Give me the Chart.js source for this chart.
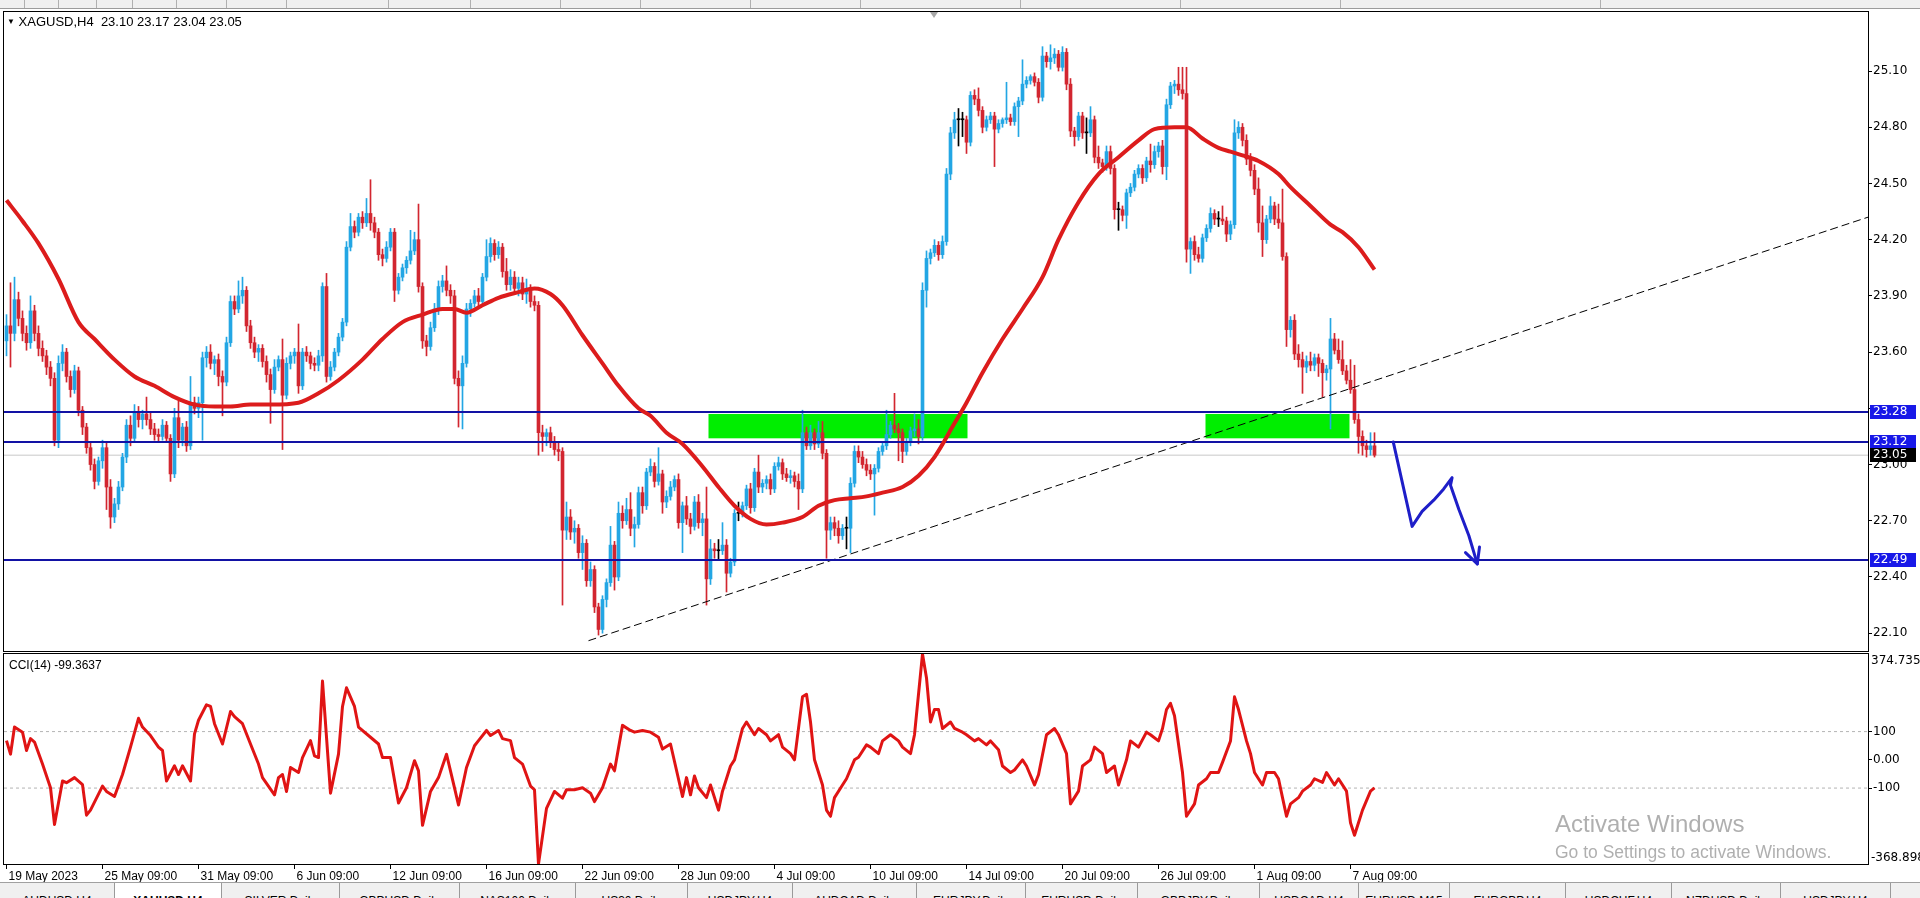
<!DOCTYPE html>
<html>
<head>
<meta charset="utf-8">
<title>XAGUSD,H4</title>
<script src="https://cdn.jsdelivr.net/npm/chart.js@4.4.1/dist/chart.umd.min.js"></script>
<style>
  html, body { margin:0; padding:0; width:1920px; height:898px; overflow:hidden; background:#fff; font-family:'Liberation Sans', Arial, sans-serif; }
  canvas { position:absolute; left:0; }
  #mainChart { top:0; }
  #cciChart { top:652px; }
  #toolbar { position:absolute; left:0; top:0; width:1920px; height:8px; background:#f0f0f0; border-bottom:1px solid #9c9c9c; z-index:2; }
  .sep { position:absolute; top:0; width:1px; height:8px; background:#b0b0b0; }
  .txt { position:absolute; white-space:nowrap; color:#000; font-size:12px; z-index:3; }
  #shift { position:absolute; left:930px; top:12px; width:0; height:0; border-left:4px solid transparent; border-right:4px solid transparent; border-top:6px solid #a8a8a8; z-index:3; }
  #tabs { position:absolute; left:0; top:882px; width:1920px; height:16px; background:#f0f0f0; border-top:1px solid #a0a0a0; z-index:3; overflow:hidden; }
  .tab { position:absolute; top:0; height:16px; border-right:1px solid #9a9a9a; overflow:hidden; font-size:12px; color:#000; text-align:center; box-sizing:border-box; padding-top:11px; line-height:14px; }
  .tab.on { background:#fff; font-weight:bold; }
  .wm { position:absolute; color:rgba(110,110,110,0.55); white-space:nowrap; z-index:3; line-height:1; }
</style>
</head>
<body>
<div id="toolbar"></div>
<canvas id="mainChart" width="1920" height="652"></canvas>
<canvas id="cciChart" width="1920" height="246"></canvas>
<div id="shift"></div>
<div class="txt" style="left:7px;top:14px;font-size:13px;"><span style="font-size:8px;position:relative;top:-2px;">&#9660;</span> XAGUSD,H4&nbsp; 23.10 23.17 23.04 23.05</div>
<div class="txt" style="left:9px;top:658px;">CCI(14) -99.3637</div>
<div class="wm" style="left:1555px;top:812px;font-size:24px;">Activate Windows</div>
<div class="wm" style="left:1555px;top:844px;font-size:17.5px;">Go to Settings to activate Windows.</div>
<div id="tabs"></div>

<script>
// ---- candles (H4 bars, left to right) ----
const opens = [
  23.66,23.74,23.70,23.88,23.78,23.70,23.65,23.82,23.70,23.62,
  23.58,23.52,23.46,23.13,23.54,23.60,23.47,23.40,23.50,23.29,
  23.20,23.09,23.00,22.91,23.02,23.09,22.88,22.72,22.79,22.88,
  23.04,23.21,23.14,23.28,23.24,23.27,23.24,23.19,23.16,23.15,
  23.21,23.14,22.95,23.25,23.13,23.20,23.10,23.33,23.30,23.33,
  23.57,23.60,23.54,23.56,23.47,23.44,23.65,23.87,23.83,23.90,
  23.93,23.74,23.65,23.60,23.62,23.55,23.48,23.40,23.52,23.56,
  23.37,23.54,23.58,23.60,23.42,23.60,23.58,23.54,23.53,23.58,
  23.95,23.47,23.52,23.60,23.68,23.76,24.16,24.27,24.24,24.32,
  24.29,24.34,24.29,24.24,24.12,24.10,24.16,24.24,23.93,24.00,
  24.05,24.09,24.14,24.20,23.95,23.66,23.63,23.73,23.83,23.95,
  23.98,23.93,23.90,23.46,23.42,23.54,23.83,23.86,23.90,23.87,
  24.00,24.11,24.18,24.12,24.16,24.03,23.96,24.00,23.94,23.97,
  23.91,23.94,23.87,23.85,23.17,23.15,23.17,23.12,23.08,23.07,
  22.65,22.72,22.64,22.66,22.53,22.58,22.38,22.44,22.24,22.12,
  22.28,22.37,22.57,22.40,22.74,22.70,22.76,22.66,22.68,22.85,
  22.78,22.96,22.99,22.91,22.95,22.80,22.83,22.88,22.92,22.69,
  22.78,22.71,22.67,22.80,22.69,22.71,22.39,22.55,22.54,22.54,
  22.57,22.42,22.48,22.74,22.74,22.78,22.87,22.77,22.96,22.88,
  22.90,22.92,22.87,22.99,23.01,22.95,22.93,22.94,22.91,22.87,
  23.17,23.10,23.17,23.11,23.17,23.06,22.65,22.69,22.66,22.62,
  22.66,22.66,22.90,23.07,23.04,23.00,22.97,22.95,22.98,23.07,
  23.10,23.16,23.21,23.19,23.17,23.07,23.12,23.18,23.19,23.15,
  23.93,24.10,24.13,24.17,24.12,24.19,24.55,24.77,24.84,24.84,
  24.84,24.72,24.97,24.95,24.89,24.80,24.84,24.86,24.79,24.82,
  24.84,24.85,24.83,24.91,24.94,25.03,25.05,25.07,25.04,24.96,
  25.18,25.15,25.17,25.19,25.12,25.20,25.03,24.78,24.75,24.86,
  24.77,24.77,24.84,24.64,24.61,24.59,24.67,24.58,24.36,24.36,
  24.33,24.45,24.48,24.55,24.58,24.53,24.62,24.60,24.67,24.70,
  24.59,24.92,25.02,25.03,25.00,24.98,24.15,24.19,24.12,24.10,
  24.21,24.26,24.34,24.31,24.31,24.30,24.23,24.28,24.77,24.80,
  24.73,24.63,24.57,24.47,24.29,24.20,24.31,24.38,24.31,24.29,
  24.11,23.72,23.77,23.59,23.56,23.52,23.55,23.53,23.57,23.54,
  23.49,23.51,23.67,23.61,23.56,23.50,23.45,23.40,23.24,23.15,
  23.10,23.08,23.10
];
const highs = [
  23.80,23.97,24.00,23.92,23.82,23.74,23.90,23.85,23.74,23.66,
  23.61,23.55,23.49,23.58,23.64,23.62,23.50,23.53,23.52,23.31,
  23.22,23.12,23.03,23.04,23.13,23.12,22.92,22.82,22.91,23.06,
  23.24,23.26,23.32,23.31,23.29,23.36,23.28,23.22,23.19,23.24,
  23.23,23.16,23.30,23.34,23.22,23.23,23.47,23.36,23.36,23.60,
  23.63,23.64,23.58,23.59,23.50,23.68,23.90,23.90,23.98,24.00,
  23.95,23.77,23.68,23.64,23.64,23.58,23.51,23.56,23.58,23.67,
  23.57,23.60,23.62,23.75,23.62,23.63,23.60,23.57,23.61,23.97,
  24.02,23.55,23.62,23.70,23.78,24.19,24.34,24.30,24.34,24.35,
  24.42,24.52,24.32,24.26,24.15,24.19,24.26,24.26,24.02,24.07,
  24.11,24.25,24.24,24.39,23.97,23.69,23.76,23.86,23.98,24.01,
  24.06,23.96,23.93,23.50,23.58,23.86,23.88,23.93,23.94,24.02,
  24.20,24.21,24.20,24.19,24.18,24.10,24.04,24.03,24.00,24.00,
  23.99,23.96,23.90,23.87,23.21,23.19,23.20,23.15,23.12,23.09,
  22.80,22.76,22.70,22.68,22.62,22.60,22.48,22.46,22.26,22.30,
  22.39,22.67,22.59,22.80,22.78,22.82,22.85,22.72,22.88,22.88,
  22.98,23.03,23.01,23.09,22.97,22.86,22.91,22.94,22.95,22.80,
  22.83,22.74,22.83,22.84,22.74,22.88,22.60,22.58,22.60,22.69,
  22.60,22.50,22.76,22.80,22.80,22.89,22.90,22.98,23.05,22.92,
  22.94,22.95,23.01,23.04,23.03,22.98,22.97,22.96,22.95,23.29,
  23.20,23.21,23.19,23.23,23.23,23.08,22.72,22.72,22.70,22.68,
  22.72,22.93,23.10,23.10,23.07,23.03,23.00,23.00,23.09,23.12,
  23.29,23.23,23.38,23.22,23.19,23.14,23.20,23.27,23.24,23.97,
  24.14,24.15,24.20,24.19,24.22,24.58,24.80,24.88,24.90,24.88,
  24.86,24.99,25.00,25.01,24.91,24.86,24.88,24.88,24.84,24.85,
  25.04,24.87,24.93,24.96,25.16,25.07,25.08,25.09,25.06,25.23,
  25.20,25.24,25.22,25.21,25.23,25.22,25.06,24.80,24.88,24.88,
  24.85,24.91,24.86,24.70,24.63,24.70,24.70,24.60,24.40,24.38,
  24.47,24.50,24.57,24.60,24.60,24.64,24.71,24.70,24.72,24.73,
  24.95,25.04,25.05,25.12,25.12,25.12,24.21,24.22,24.16,24.23,
  24.28,24.37,24.36,24.35,24.38,24.32,24.30,24.84,24.83,24.82,
  24.76,24.66,24.60,24.53,24.38,24.33,24.43,24.40,24.39,24.47,
  24.13,23.79,23.80,23.64,23.60,23.58,23.60,23.59,23.59,23.56,
  23.53,23.78,23.70,23.67,23.66,23.53,23.56,23.53,23.27,23.18,
  23.13,23.17,23.17
];
const lows = [
  23.58,23.52,23.66,23.74,23.66,23.61,23.62,23.66,23.58,23.55,
  23.48,23.42,23.10,23.09,23.50,23.44,23.36,23.38,23.26,23.16,
  23.06,22.97,22.87,22.89,22.98,22.76,22.66,22.69,22.76,22.86,
  23.01,23.10,23.12,23.20,23.19,23.21,23.16,23.13,23.12,23.13,
  23.12,22.91,22.93,23.09,23.10,23.07,23.08,23.27,23.25,23.13,
  23.52,23.51,23.48,23.42,23.26,23.42,23.63,23.80,23.81,23.86,
  23.71,23.62,23.57,23.55,23.52,23.44,23.22,23.38,23.50,23.08,
  23.35,23.51,23.54,23.38,23.40,23.55,23.51,23.50,23.50,23.55,
  23.44,23.45,23.50,23.58,23.66,23.74,24.14,24.21,24.22,24.26,
  24.27,24.25,24.21,24.09,24.06,24.08,24.14,23.87,23.91,23.98,
  24.02,24.07,24.12,23.92,23.62,23.58,23.61,23.71,23.80,23.92,
  23.90,23.86,23.43,23.20,23.19,23.52,23.79,23.84,23.84,23.85,
  23.98,24.08,24.09,24.10,24.00,23.93,23.93,23.91,23.90,23.88,
  23.86,23.84,23.82,23.05,23.07,23.10,23.09,23.05,23.02,22.25,
  22.60,22.60,22.58,22.50,22.44,22.35,22.35,22.21,22.09,22.10,
  22.24,22.35,22.33,22.38,22.66,22.68,22.62,22.56,22.66,22.74,
  22.76,22.94,22.88,22.89,22.74,22.77,22.81,22.86,22.66,22.53,
  22.68,22.63,22.65,22.66,22.62,22.25,22.36,22.50,22.49,22.52,
  22.32,22.40,22.46,22.70,22.72,22.76,22.74,22.75,22.85,22.85,
  22.87,22.84,22.85,22.97,22.92,22.91,22.90,22.88,22.76,22.85,
  23.08,23.08,23.08,23.09,23.03,22.50,22.60,22.62,22.58,22.60,
  22.55,22.53,22.88,23.01,22.98,22.94,22.92,22.73,22.96,23.05,
  23.08,23.14,23.17,23.02,23.01,23.05,23.10,23.15,23.11,23.13,
  23.84,24.07,24.11,24.09,24.10,24.17,24.52,24.74,24.70,24.75,
  24.66,24.70,24.92,24.86,24.77,24.78,24.82,24.59,24.77,24.80,
  24.82,24.81,24.81,24.75,24.92,25.01,25.03,25.02,24.93,24.94,
  25.12,25.11,25.14,25.10,25.10,25.00,24.75,24.70,24.73,24.74,
  24.66,24.75,24.61,24.58,24.56,24.57,24.55,24.31,24.25,24.30,
  24.26,24.43,24.46,24.53,24.50,24.51,24.56,24.58,24.64,24.55,
  24.52,24.90,24.98,24.97,24.95,24.08,24.02,24.09,24.08,24.08,
  24.19,24.24,24.28,24.27,24.28,24.19,24.20,24.26,24.74,24.70,
  24.60,24.54,24.44,24.24,24.11,24.18,24.29,24.28,24.26,24.09,
  23.63,23.68,23.56,23.52,23.38,23.49,23.50,23.50,23.47,23.36,
  23.45,23.19,23.59,23.54,23.48,23.43,23.38,23.22,23.06,23.05,
  23.04,23.05,23.04
];
const closes = [
  23.74,23.70,23.88,23.78,23.70,23.65,23.82,23.70,23.62,23.58,
  23.52,23.46,23.13,23.54,23.60,23.47,23.40,23.50,23.29,23.20,
  23.09,23.00,22.91,23.02,23.09,22.88,22.72,22.79,22.88,23.04,
  23.21,23.14,23.28,23.24,23.27,23.24,23.19,23.16,23.15,23.21,
  23.14,22.95,23.25,23.13,23.20,23.10,23.33,23.30,23.33,23.57,
  23.60,23.54,23.56,23.47,23.44,23.65,23.87,23.83,23.90,23.93,
  23.74,23.65,23.60,23.62,23.55,23.48,23.40,23.52,23.56,23.37,
  23.54,23.58,23.60,23.42,23.60,23.58,23.54,23.53,23.58,23.95,
  23.47,23.52,23.60,23.68,23.76,24.16,24.27,24.24,24.32,24.29,
  24.34,24.29,24.24,24.12,24.10,24.16,24.24,23.93,24.00,24.05,
  24.09,24.14,24.20,23.95,23.66,23.63,23.73,23.83,23.95,23.98,
  23.93,23.90,23.46,23.42,23.54,23.83,23.86,23.90,23.87,24.00,
  24.11,24.18,24.12,24.16,24.03,23.96,24.00,23.94,23.97,23.91,
  23.94,23.87,23.85,23.17,23.15,23.17,23.12,23.08,23.07,22.65,
  22.72,22.64,22.66,22.53,22.58,22.38,22.44,22.24,22.12,22.28,
  22.37,22.57,22.40,22.74,22.70,22.76,22.66,22.68,22.85,22.78,
  22.96,22.99,22.91,22.95,22.80,22.83,22.88,22.92,22.69,22.78,
  22.71,22.67,22.80,22.69,22.71,22.39,22.55,22.54,22.54,22.57,
  22.42,22.48,22.74,22.74,22.78,22.87,22.77,22.96,22.88,22.90,
  22.92,22.87,22.99,23.01,22.95,22.93,22.94,22.91,22.87,23.17,
  23.10,23.17,23.11,23.17,23.06,22.65,22.69,22.66,22.62,22.66,
  22.66,22.90,23.07,23.04,23.00,22.97,22.95,22.98,23.07,23.10,
  23.16,23.21,23.19,23.17,23.07,23.12,23.18,23.19,23.15,23.93,
  24.10,24.13,24.17,24.12,24.19,24.55,24.77,24.84,24.84,24.84,
  24.72,24.97,24.95,24.89,24.80,24.84,24.86,24.79,24.82,24.84,
  24.85,24.83,24.91,24.94,25.03,25.05,25.07,25.04,24.96,25.18,
  25.15,25.17,25.19,25.12,25.20,25.03,24.78,24.75,24.86,24.77,
  24.77,24.84,24.64,24.61,24.59,24.67,24.58,24.36,24.36,24.33,
  24.45,24.48,24.55,24.58,24.53,24.62,24.60,24.67,24.70,24.59,
  24.92,25.02,25.03,25.00,24.98,24.15,24.19,24.12,24.10,24.21,
  24.26,24.34,24.31,24.31,24.30,24.23,24.28,24.77,24.80,24.73,
  24.63,24.57,24.47,24.29,24.20,24.31,24.38,24.31,24.29,24.11,
  23.72,23.77,23.59,23.56,23.52,23.55,23.53,23.57,23.54,23.49,
  23.51,23.67,23.61,23.56,23.50,23.45,23.40,23.24,23.15,23.10,
  23.08,23.10,23.05
];

// red moving average, read at a few bars
const maBars = [0,4,8,13,18,22,27,32,37,42,47,52,56,61,66,73,78,83,89,94,99,104,109,112,115,119,123,128,132,136,139,144,149,153,158,161,165,169,174,178,182,186,190,194,199,203,207,211,215,219,224,228,232,237,240,244,249,254,259,263,268,273,278,283,287,292,295,299,303,306,309,313,318,321,326,331,334,338,342];
const maValues = [24.41,24.30,24.18,23.99,23.76,23.67,23.56,23.47,23.42,23.36,23.32,23.31,23.31,23.32,23.32,23.33,23.38,23.45,23.56,23.67,23.76,23.80,23.83,23.83,23.81,23.85,23.89,23.92,23.94,23.91,23.85,23.69,23.54,23.42,23.30,23.26,23.17,23.11,22.99,22.88,22.78,22.71,22.68,22.69,22.72,22.78,22.81,22.82,22.83,22.85,22.88,22.94,23.04,23.22,23.33,23.49,23.67,23.83,24.00,24.20,24.40,24.55,24.64,24.73,24.79,24.80,24.80,24.74,24.69,24.67,24.65,24.62,24.55,24.48,24.38,24.28,24.24,24.16,24.04];

// CCI(14)
const cciBars = [0,1,2,4,5,6,7,9,11,12,14,15,17,19,20,21,24,25,27,29,31,33,34,36,38,39,40,42,43,44,46,47,48,50,51,52,54,56,57,59,61,63,64,67,68,69,70,71,73,74,76,77,78,79,81,83,84,85,87,88,91,93,94,96,98,100,102,103,104,106,108,110,112,113,115,117,118,120,121,123,124,126,127,129,131,132,133,135,137,139,140,142,144,146,147,149,151,152,154,156,157,159,161,163,164,166,169,170,171,172,173,175,176,178,179,181,182,184,185,187,188,190,191,193,194,196,197,199,200,201,202,204,205,206,207,209,210,212,213,215,216,218,219,221,223,224,226,227,229,230,231,232,233,234,236,237,239,240,242,243,245,246,248,249,251,252,254,255,257,258,260,262,263,265,266,268,269,271,272,274,275,277,278,280,281,283,285,286,288,289,290,291,292,294,295,297,298,300,301,303,304,306,307,308,310,311,312,314,315,317,318,319,320,321,323,324,326,327,329,330,332,333,335,336,337,338,339,341,342];
const cciValues = [68,20,116,98,33,75,63,-15,-99,-229,-75,-81,-63,-88,-196,-178,-93,-112,-130,-52,45,147,116,86,45,33,-75,-21,-52,-21,-75,92,140,195,189,128,56,171,153,128,56,-15,-63,-124,-63,-52,-112,-27,-45,8,68,14,8,279,-118,20,189,255,189,116,80,56,8,8,-153,-99,-3,-39,-232,-112,-63,20,-99,-160,-27,50,68,104,86,104,75,68,8,-15,-93,-106,-368.898,-172,-112,-136,-106,-106,-99,-118,-148,-99,-15,-39,122,104,98,104,98,80,38,56,-130,-63,-124,-57,-99,-134,-89,-178,-111,-22,0,111,134,89,111,89,67,89,45,22,0,223,232,134,0,-89,-178,-200,-134,-89,-67,0,9,53,45,22,67,89,67,45,22,89,374.735,290,134,178,178,111,134,111,98,89,67,75,53,67,36,-22,-45,-36,0,-22,-89,-53,89,111,89,22,-156,-111,-22,0,45,22,-45,-22,-89,0,67,45,98,89,67,111,178,200,156,-45,-200,-156,-89,-67,-45,-45,-9,67,223,178,67,22,-45,-89,-45,-45,-67,-134,-200,-156,-134,-111,-89,-67,-80,-45,-89,-67,-111,-223,-267,-223,-178,-111,-99.3637];
const cciMin = -368.898, cciMax = 374.735;
const cciTicks = [100, 0, -100];
const cciLevels = [100, -100];

// axes
const dateBars = [0,24,48,72,96,120,144,168,192,216,240,264,288,312,336];
const dateLabels = ['19 May 2023','25 May 09:00','31 May 09:00','6 Jun 09:00','12 Jun 09:00','16 Jun 09:00','22 Jun 09:00','28 Jun 09:00','4 Jul 09:00','10 Jul 09:00','14 Jul 09:00','20 Jul 09:00','26 Jul 09:00','1 Aug 09:00','7 Aug 09:00'];
const priceTicks = [22.10,22.40,22.70,23.00,23.30,23.60,23.90,24.20,24.50,24.80,25.10];
const priceMin = 22.005, priceMax = 25.415;
const barMin = -0.625, barMax = 465.375;

// drawn objects
const levelPrices = [23.28, 23.12, 22.49];
const bidPrice = 23.05;
const zoneStartBars = [175.5, 299.75];
const zoneEndBars = [240.25, 335.75];
const zoneLowPrice = 23.14, zoneHighPrice = 23.27;
const trendBars = [145.5, 465.375];
const trendPrices = [22.06, 24.32];
const arrowBars = [346.7, 351.4, 353.9, 356.8, 359.3, 361.4, 361.0, 363.1, 365.6, 367.7];
const arrowPrices = [23.12, 22.67, 22.75, 22.81, 22.87, 22.93, 22.89, 22.76, 22.62, 22.47];
const headBars = [364.75, 367.7, 368.25];
const headPrices = [22.53, 22.47, 22.56];

const tabNames = ['AUDUSD,H4','XAUUSD,H4','SILVER,Daily','GBPUSD,Daily','NAS100,Daily','US30,Daily','USDJPY,H4','AUDCAD,Daily','EURJPY,Daily','EURUSD,Daily','GBPJPY,Daily','USDCAD,H4','EURUSD,M15','EURGBP,H4','USDCHF,H4','NZDUSD,Daily','USDJPY,H4'];
const tabEdges = [0,115,222,340,460,576,688,793,917,1026,1138,1260,1359,1450,1566,1672,1781,1891];
const toolbarSeps = [24, 58, 96, 132, 176, 226, 286, 388, 470, 560, 640, 750, 860, 1020, 1180, 1340, 1600];

// colours
const UP = '#23a6e4', DOWN = '#d22630', DOJI = '#000000';
const MA_RED = '#dc1c1c', CCI_RED = '#e01414';
const LEVEL_BLUE = '#1212a4', TAG_BLUE = '#1818e8', ARROW_BLUE = '#1e1ec8', ZONE_GREEN = '#00ee00';

Chart.defaults.font.family = "'Liberation Sans', Arial, sans-serif";
Chart.defaults.font.size = 12;
Chart.defaults.color = '#000';

const candleColors = closes.map((c, i) => Math.abs(c - opens[i]) < 0.005 ? DOJI : (c > opens[i] ? UP : DOWN));
const bodyData = closes.map((c, i) => ({x: i, y: [opens[i], c]}));
const wickData = closes.map((c, i) => ({x: i, y: [lows[i], highs[i]]}));
const hLine = v => [{x: barMin, y: v}, {x: barMax, y: v}];
const pairs = (xs, ys) => xs.map((x, i) => ({x: x, y: ys[i]}));
// axis labels that sit right under a price tag are hidden, as the terminal does
const underTag = v => levelPrices.concat(bidPrice).some(p => Math.abs(p - v) < 0.03);

const mainPanel = {
  id: 'mainPanel',
  beforeDatasetsDraw(chart) {
    const {ctx, scales: {x, y}} = chart;
    ctx.save();
    ctx.fillStyle = ZONE_GREEN;
    zoneStartBars.forEach((b, i) => {
      const x0 = x.getPixelForValue(b), x1 = x.getPixelForValue(zoneEndBars[i]);
      const y0 = y.getPixelForValue(zoneHighPrice), y1 = y.getPixelForValue(zoneLowPrice);
      ctx.fillRect(x0, y0, x1 - x0, y1 - y0);
    });
    ctx.restore();
  },
  afterDraw(chart) {
    const {ctx, chartArea: a, scales: {y}} = chart;
    ctx.save();
    ctx.strokeStyle = '#000';
    ctx.lineWidth = 1;
    ctx.strokeRect(a.left - 0.5, a.top - 0.5, a.right - a.left + 1, a.bottom - a.top + 1);
    ctx.font = "12px 'DejaVu Sans'";
    ctx.textBaseline = 'middle';
    const tag = (p, bg) => {
      const py = Math.round(y.getPixelForValue(p));
      ctx.fillStyle = bg;
      ctx.fillRect(a.right + 2, py - 7, 46, 14);
      ctx.fillStyle = '#fff';
      ctx.fillText(p.toFixed(2), a.right + 5, py);
    };
    levelPrices.forEach(p => tag(p, TAG_BLUE));
    tag(bidPrice, '#000');
    ctx.restore();
  }
};

new Chart(document.getElementById('mainChart'), {
  type: 'bar',
  data: {
    datasets: [
      { type: 'line', label: 'arrow', data: pairs(arrowBars, arrowPrices), borderColor: ARROW_BLUE, borderWidth: 3, pointRadius: 0, borderJoinStyle: 'round', borderCapStyle: 'round', order: 0 },
      { type: 'line', label: 'arrow head', data: pairs(headBars, headPrices), borderColor: ARROW_BLUE, borderWidth: 3, pointRadius: 0, borderJoinStyle: 'round', borderCapStyle: 'round', order: 0 },
      { type: 'line', label: 'MA', data: pairs(maBars, maValues), borderColor: MA_RED, borderWidth: 4, pointRadius: 0, cubicInterpolationMode: 'monotone', order: 1 },
      ...levelPrices.map(p => ({ type: 'line', label: 'level ' + p, data: hLine(p), borderColor: LEVEL_BLUE, borderWidth: 2, pointRadius: 0, order: 2 })),
      { type: 'line', label: 'trend', data: pairs(trendBars, trendPrices), borderColor: '#000', borderWidth: 1, borderDash: [8, 4], pointRadius: 0, order: 3 },
      { label: 'bodies', data: bodyData, backgroundColor: candleColors, barThickness: 3, grouped: false, minBarLength: 1, order: 4 },
      { label: 'wicks', data: wickData, backgroundColor: candleColors, barThickness: 1, grouped: false, order: 5 },
      { type: 'line', label: 'bid', data: hLine(bidPrice), borderColor: '#c8c8c8', borderWidth: 1, pointRadius: 0, order: 6 }
    ]
  },
  options: {
    responsive: false,
    animation: false,
    devicePixelRatio: 1,
    layout: { padding: { left: 4, top: 12, right: 0, bottom: 1 } },
    plugins: { legend: { display: false }, tooltip: { enabled: false } },
    scales: {
      x: { type: 'linear', min: barMin, max: barMax, offset: false, display: false },
      y: {
        position: 'right', min: priceMin, max: priceMax,
        afterBuildTicks: s => { s.ticks = priceTicks.map(v => ({value: v})); },
        afterFit: s => { s.width = 52; s.paddingTop = 0; s.paddingBottom = 0; },
        ticks: { callback: v => underTag(v) ? '' : v.toFixed(2), font: { family: "'DejaVu Sans'", size: 12 }, color: '#000', padding: 1, autoSkip: false },
        grid: { drawOnChartArea: false, tickLength: 4, color: '#000' },
        border: { color: '#000' }
      }
    }
  },
  plugins: [mainPanel]
});

const cciPanel = {
  id: 'cciPanel',
  afterDraw(chart) {
    const {ctx, chartArea: a} = chart;
    ctx.save();
    ctx.strokeStyle = '#000';
    ctx.lineWidth = 1;
    ctx.strokeRect(a.left - 0.5, a.top - 0.5, a.right - a.left + 1, a.bottom - a.top + 1);
    ctx.fillStyle = '#000';
    ctx.font = "12px 'DejaVu Sans'";
    ctx.textBaseline = 'top';
    ctx.fillText(cciMax.toFixed(3), a.right + 3, a.top + 1);
    ctx.textBaseline = 'bottom';
    ctx.fillText(cciMin.toFixed(3), a.right + 3, a.bottom);
    ctx.restore();
  }
};

new Chart(document.getElementById('cciChart'), {
  type: 'line',
  data: {
    datasets: [
      { label: 'CCI(14)', data: pairs(cciBars, cciValues), borderColor: CCI_RED, borderWidth: 3, pointRadius: 0, borderJoinStyle: 'round', order: 0 },
      ...cciLevels.map(v => ({ label: 'level ' + v, data: hLine(v), borderColor: '#b4b4b4', borderWidth: 1, borderDash: [3, 3], pointRadius: 0, order: 1 }))
    ]
  },
  options: {
    responsive: false,
    animation: false,
    devicePixelRatio: 1,
    layout: { padding: { left: 4, top: 2, right: 0, bottom: 14 } },
    plugins: { legend: { display: false }, tooltip: { enabled: false } },
    scales: {
      x: {
        type: 'linear', min: barMin, max: barMax, position: 'bottom',
        afterBuildTicks: s => { s.ticks = dateBars.map(v => ({value: v})); },
        afterFit: s => { s.height = 20; s.paddingLeft = 0; s.paddingRight = 0; },
        ticks: { callback: (v, i) => dateLabels[i], align: 'start', maxRotation: 0, autoSkip: false, padding: 0, labelOffset: 2, color: '#000', font: { size: 12 } },
        grid: { drawOnChartArea: false, tickLength: 5, color: '#000' },
        border: { color: '#000' }
      },
      y: {
        position: 'right', min: cciMin, max: cciMax,
        afterBuildTicks: s => { s.ticks = cciTicks.map(v => ({value: v})); },
        afterFit: s => { s.width = 52; s.paddingTop = 0; s.paddingBottom = 0; },
        ticks: { callback: v => v === 0 ? '0.00' : String(v), font: { family: "'DejaVu Sans'", size: 12 }, color: '#000', padding: 1, autoSkip: false },
        grid: { drawOnChartArea: false, tickLength: 4, color: '#000' },
        border: { color: '#000' }
      }
    }
  },
  plugins: [cciPanel]
});

// toolbar separators along the top strip
const toolbar = document.getElementById('toolbar');
toolbarSeps.forEach(x => {
  const s = document.createElement('div');
  s.className = 'sep';
  s.style.left = x + 'px';
  toolbar.appendChild(s);
});

// terminal tabs along the bottom
const tabs = document.getElementById('tabs');
tabNames.forEach((name, i) => {
  const d = document.createElement('div');
  d.className = 'tab' + (i === 1 ? ' on' : '');
  d.style.left = tabEdges[i] + 'px';
  d.style.width = ((tabEdges[i + 1] || 1920) - tabEdges[i]) + 'px';
  d.textContent = name;
  tabs.appendChild(d);
});
</script>
</body>
</html>
